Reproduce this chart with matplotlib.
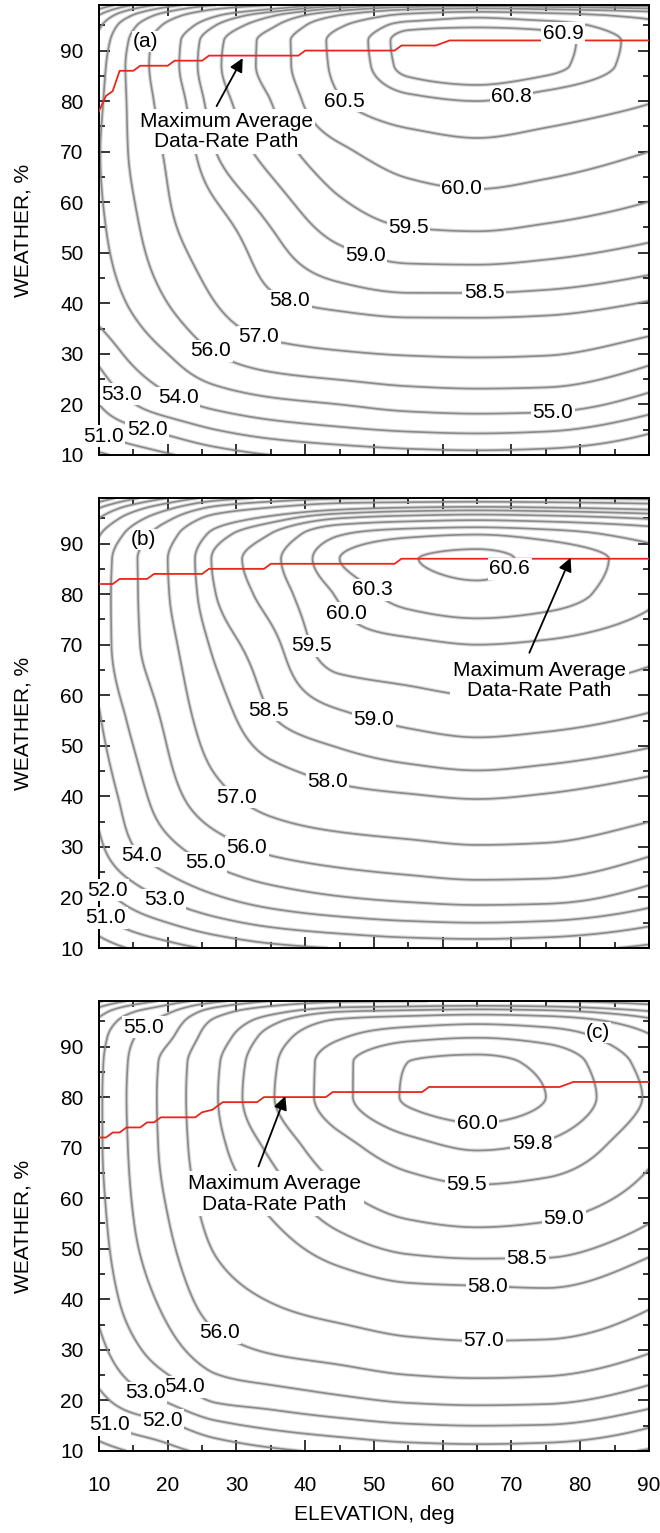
import numpy as np
import matplotlib
matplotlib.use('Agg')
import matplotlib.pyplot as plt
from matplotlib.ticker import MultipleLocator

plt.rcParams['font.family'] = ['Liberation Sans', 'DejaVu Sans']

elev = [10, 14, 20, 27, 35, 45, 55, 65, 75, 90]
weather = [10, 15, 20, 30, 40, 55, 70, 80, 87, 92, 95, 97, 98, 99]

# one list per elevation column, values follow `weather`
rate_a = [
    [49.8, 51.2, 52.0, 53.3, 54.4, 54.8, 54.95, 54.8, 54.6, 54.3, 53.8, 53.0, 52.2, 51.0],
    [50.3, 51.7, 52.8, 54.1, 55.0, 55.6, 55.95, 56.0, 56.05, 55.9, 55.5, 54.7, 53.9, 52.7],
    [50.9, 52.3, 53.6, 55.0, 56.0, 56.8, 57.15, 57.45, 57.65, 57.6, 57.2, 56.5, 55.7, 54.5],
    [51.5, 53.0, 54.25, 56.0, 57.0, 57.7, 58.5, 58.75, 58.9, 58.85, 58.5, 57.9, 57.2, 56.0],
    [52.0, 53.5, 54.7, 56.6, 57.85, 58.5, 59.2, 59.5, 59.7, 59.7, 59.4, 58.9, 58.2, 57.0],
    [52.35, 53.85, 55.0, 56.9, 58.15, 59.2, 59.9, 60.47, 60.6, 60.62, 60.45, 60.0, 59.4, 58.3],
    [52.6, 54.1, 55.3, 57.05, 58.3, 59.5, 60.25, 60.75, 60.93, 60.94, 60.86, 60.6, 60.1, 59.0],
    [52.7, 54.2, 55.4, 57.1, 58.3, 59.55, 60.37, 60.8, 60.97, 60.98, 60.88, 60.75, 60.3, 59.2],
    [52.6, 54.1, 55.35, 57.05, 58.25, 59.45, 60.27, 60.72, 60.93, 60.94, 60.86, 60.65, 60.15, 59.0],
    [52.0, 53.2, 54.5, 56.4, 57.95, 59.2, 60.0, 60.52, 60.7, 60.72, 60.62, 60.35, 59.8, 58.6],
]
rate_b = [
    [49.4, 50.6, 51.5, 52.8, 53.3, 53.9, 54.4, 54.5, 54.4, 53.9, 53.0, 52.0, 51.2, 50.2],
    [50.0, 51.3, 52.3, 53.8, 54.3, 55.0, 55.6, 55.6, 55.6, 55.1, 54.3, 53.3, 52.5, 51.5],
    [50.6, 52.0, 53.15, 54.75, 55.6, 56.2, 56.7, 56.95, 57.0, 56.6, 55.8, 54.8, 54.0, 53.0],
    [51.2, 52.7, 53.9, 55.6, 56.7, 57.6, 58.15, 58.5, 58.6, 58.2, 57.4, 56.3, 55.5, 54.4],
    [51.7, 53.25, 54.5, 56.25, 57.4, 58.45, 58.85, 59.2, 59.35, 59.0, 58.2, 57.1, 56.3, 55.2],
    [52.05, 53.65, 54.95, 56.6, 57.8, 58.85, 59.8, 60.05, 60.3, 59.95, 59.0, 57.8, 57.0, 55.8],
    [52.3, 53.9, 55.2, 56.8, 57.95, 59.1, 59.92, 60.42, 60.58, 60.2, 59.25, 58.1, 57.2, 56.0],
    [52.4, 54.0, 55.35, 56.95, 58.05, 59.22, 60.0, 60.52, 60.67, 60.27, 59.35, 58.2, 57.3, 56.1],
    [52.3, 53.9, 55.3, 56.9, 57.95, 59.15, 59.95, 60.42, 60.5, 60.15, 59.25, 58.1, 57.2, 56.0],
    [51.8, 53.2, 54.5, 56.3, 57.6, 58.9, 59.7, 60.08, 60.15, 59.8, 58.95, 57.8, 56.9, 55.7],
]
rate_c = [
    [49.5, 50.7, 51.7, 52.7, 53.25, 53.65, 53.85, 53.85, 53.8, 53.6, 53.2, 52.5, 51.8, 50.8],
    [50.0, 51.3, 52.4, 53.6, 54.25, 54.75, 54.95, 55.0, 54.95, 54.75, 54.35, 53.7, 53.0, 52.0],
    [50.7, 51.8, 53.1, 54.6, 55.3, 55.95, 56.3, 56.35, 56.3, 55.8, 55.4, 54.8, 54.2, 53.3],
    [51.3, 52.7, 54.1, 55.6, 56.5, 57.3, 57.8, 57.95, 57.9, 57.6, 57.2, 56.5, 55.8, 54.7],
    [51.8, 53.2, 54.4, 56.1, 57.05, 57.95, 58.6, 58.95, 58.9, 58.7, 58.35, 57.7, 57.0, 56.0],
    [52.2, 53.6, 54.8, 56.4, 57.45, 58.6, 59.35, 59.72, 59.72, 59.45, 59.1, 58.45, 57.8, 56.8],
    [52.5, 53.9, 55.1, 56.7, 57.7, 58.95, 59.7, 60.02, 60.0, 59.72, 59.3, 58.6, 57.95, 56.95],
    [52.6, 54.0, 55.2, 56.8, 57.75, 59.05, 59.82, 60.1, 60.04, 59.78, 59.4, 58.7, 58.05, 57.1],
    [52.5, 53.95, 55.15, 56.75, 57.8, 58.98, 59.75, 60.0, 59.95, 59.7, 59.3, 58.6, 57.95, 57.0],
    [51.9, 53.1, 54.4, 56.1, 57.2, 58.5, 59.15, 59.45, 59.35, 59.05, 58.65, 58.0, 57.3, 56.4],
]

levels_a = [50, 51, 52, 53, 54, 55, 56, 57, 58, 58.5, 59, 59.5, 60, 60.5, 60.8, 60.9]
levels_b = [50, 51, 52, 53, 54, 55, 56, 57, 58, 58.5, 59, 59.5, 60, 60.3, 60.6]
levels_c = [50, 51, 52, 53, 54, 55, 56, 57, 58, 58.5, 59, 59.5, 59.8, 60.0]

# (level, elevation, weather) where each contour is labelled
labels_a = [(60.9, 77.5, 93.2), (60.8, 69.7, 83.1), (60.5, 45.5, 79.9), (60.0, 62.8, 62.9),
            (59.5, 54.9, 55.0), (59.0, 48.7, 49.0), (58.5, 65.9, 42.3), (58.0, 37.9, 41.3),
            (57.0, 33.3, 33.4), (56.0, 26.3, 30.8), (55.0, 76.0, 18.6), (54.0, 21.6, 21.7),
            (53.0, 13.9, 22.9), (52.0, 17.0, 14.9), (51.0, 10.6, 13.6)]
labels_b = [(60.6, 70.9, 83.5), (60.3, 49.7, 80.9), (60.0, 45.0, 75.3), (59.5, 40.3, 69.4),
            (59.0, 49.9, 55.1), (58.5, 34.9, 57.1), (58.0, 43.3, 43.3), (57.0, 30.2, 40.3),
            (56.0, 31.7, 30.1), (55.0, 25.4, 26.8), (54.0, 16.3, 28.6), (53.0, 19.3, 19.2),
            (52.0, 11.6, 21.9), (51.0, 10.9, 15.9)]
labels_c = [(60.0, 65.0, 74.9), (59.8, 72.8, 72.6), (59.5, 63.5, 63.0), (59.0, 77.5, 57.1),
            (58.5, 72.3, 49.2), (58.0, 66.6, 43.7), (57.0, 65.9, 31.9), (56.0, 27.9, 34.2),
            (55.0, 17.0, 93.0), (54.0, 22.9, 23.3), (53.0, 16.8, 21.8), (52.0, 19.3, 16.5),
            (51.0, 11.6, 15.5)]

# maximum average data-rate path
path_a_elev = [10, 11, 12, 13, 15, 16, 20, 21, 25, 26, 39, 40, 53, 54, 59, 61, 90]
path_a_weather = [78, 81, 82, 86, 86, 87, 87, 88, 88, 89, 89, 90, 90, 91, 91, 92, 92]
path_b_elev = [10, 12, 13, 17, 18, 25, 26, 34, 35, 53, 54, 90]
path_b_weather = [82, 82, 83, 83, 84, 84, 85, 85, 86, 86, 87, 87]
path_c_elev = [10, 11, 12, 13, 14, 16, 17, 18, 19, 24, 25, 26.5, 28, 33, 34, 43, 44, 57, 58, 77, 79, 90]
path_c_weather = [72, 72, 73, 73, 74, 74, 75, 75, 76, 76, 77, 77.5, 79, 79, 80, 80, 81, 81, 82, 82, 83, 83]

note = 'Maximum Average\nData-Rate Path'

fig = plt.figure(figsize=(6.6, 15.33), dpi=100)


def pchip(x, y, xn):
    # shape preserving cubic between the read-off nodes (no overshoot)
    x = np.asarray(x, float)
    y = np.asarray(y, float)
    h = np.diff(x)
    delta = np.diff(y) / h
    d = np.zeros_like(y)
    for k in range(1, len(x) - 1):
        if delta[k - 1] * delta[k] > 0:
            w1 = 2 * h[k] + h[k - 1]
            w2 = h[k] + 2 * h[k - 1]
            d[k] = (w1 + w2) / (w1 / delta[k - 1] + w2 / delta[k])

    def end(h0, h1, d0, d1):
        s = ((2 * h0 + h1) * d0 - h0 * d1) / (h0 + h1)
        if np.sign(s) != np.sign(d0):
            return 0.0
        if np.sign(d0) != np.sign(d1) and abs(s) > 3 * abs(d0):
            return 3 * d0
        return s

    d[0] = end(h[0], h[1], delta[0], delta[1])
    d[-1] = end(h[-1], h[-2], delta[-1], delta[-2])
    i = np.clip(np.searchsorted(x, xn) - 1, 0, len(x) - 2)
    t = (xn - x[i]) / h[i]
    return ((2 * t**3 - 3 * t**2 + 1) * y[i] + (t**3 - 2 * t**2 + t) * h[i] * d[i]
            + (-2 * t**3 + 3 * t**2) * y[i + 1] + (t**3 - t**2) * h[i] * d[i + 1])


ef = np.linspace(10, 90, 321)
wf = np.linspace(10, 99, 357)


def fine_field(rate):
    cols = np.array([pchip(weather, col, wf) for col in rate])   # (n_elev, n_wf)
    return np.array([pchip(elev, cols[:, j], ef) for j in range(len(wf))])


def label_contour(ax, cs, levels, lv, x, y):
    # put the label on the nearest point of that level's contour
    verts = cs.get_paths()[levels.index(lv)].vertices
    if len(verts) == 0:
        return
    pts = ax.transData.transform(verts)
    target = ax.transData.transform((x, y))
    k = np.argmin(((pts - target) ** 2).sum(axis=1))
    px, py = verts[k]
    ax.text(px, py, f'{lv:.1f}', ha='center', va='center', fontsize=15, zorder=6,
            clip_on=False, bbox=dict(facecolor='white', edgecolor='none', pad=1.0))


def draw_panel(bottom, rate, levels, labels, p_e, p_w, note_xy, arrow_from, arrow_to,
               tag, tag_xy, show_x):
    ax = fig.add_axes([0.15, bottom, 0.8333, 0.2935])

    z = fine_field(rate)
    # soft grey halo under a darker core, like the original rendering
    ax.contour(ef, wf, z, levels=levels, colors='#d9d9d9', linewidths=2.8, zorder=1)
    cs = ax.contour(ef, wf, z, levels=levels, colors='#8a8a8a', linewidths=1.2, zorder=2)
    ax.set_xlim(10, 90)
    ax.set_ylim(10, 99)

    for lv, x, y in labels:
        label_contour(ax, cs, levels, lv, x, y)

    ax.plot(p_e, p_w, color='#e8261c', lw=1.3, zorder=4)

    ax.text(note_xy[0], note_xy[1], note, ha='center', va='center', fontsize=15,
            linespacing=1.12, zorder=5,
            bbox=dict(facecolor='white', edgecolor='none', pad=2))
    ax.annotate('', xy=arrow_to, xytext=arrow_from, zorder=7,
                arrowprops=dict(arrowstyle='-|>', color='k', lw=1.3,
                                mutation_scale=20, shrinkA=0, shrinkB=0))
    ax.text(tag_xy[0], tag_xy[1], tag, ha='center', va='center', fontsize=15, zorder=6,
            bbox=dict(facecolor='white', edgecolor='none', pad=0.5))

    ax.xaxis.set_major_locator(MultipleLocator(10))
    ax.xaxis.set_minor_locator(MultipleLocator(5))
    ax.yaxis.set_major_locator(MultipleLocator(10))
    ax.yaxis.set_minor_locator(MultipleLocator(5))
    ax.tick_params(which='both', direction='in', top=True, right=True, width=1.1)
    ax.tick_params(which='major', length=8, labelsize=15)
    ax.tick_params(which='minor', length=4.5)
    ax.tick_params(axis='y', pad=11)
    ax.tick_params(axis='x', pad=18)
    for s in ax.spines.values():
        s.set_linewidth(1.4)

    ax.set_ylabel('WEATHER, %', fontsize=15, labelpad=20)
    if show_x:
        ax.set_xlabel('ELEVATION, deg', fontsize=15, labelpad=7)
    else:
        ax.tick_params(axis='x', labelbottom=False)
    return ax


draw_panel(0.7032, rate_a, levels_a, labels_a, path_a_elev, path_a_weather,
           (28.5, 74.0), (27.1, 79.0), (30.9, 88.5), '(a)', (16.7, 91.8), False)
draw_panel(0.3816, rate_b, levels_b, labels_b, path_b_elev, path_b_weather,
           (74.1, 62.9), (72.6, 68.4), (78.6, 87.2), '(b)', (16.5, 90.8), False)
draw_panel(0.0535, rate_c, levels_c, labels_c, path_c_elev, path_c_weather,
           (35.5, 60.9), (33.2, 66.3), (37.1, 80.2), '(c)', (82.6, 92.8), True)

fig.savefig('out.png', dpi=100)
